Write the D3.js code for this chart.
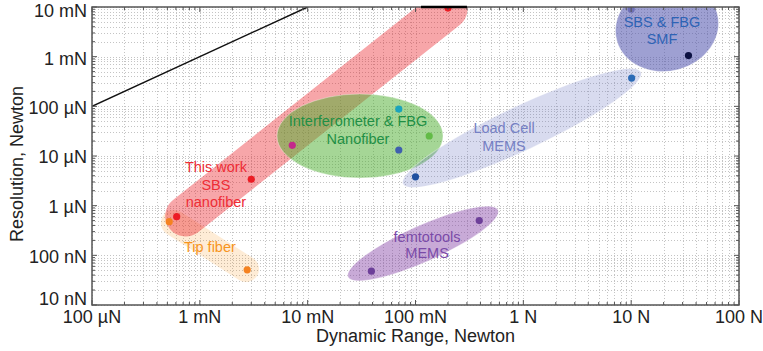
<!DOCTYPE html>
<html>
<head>
<meta charset="utf-8">
<script src="https://cdn.jsdelivr.net/npm/d3@7"></script>
<style>
  body { margin: 0; background: #fff; }
  svg { display: block; font-family: 'Liberation Sans', Arial, sans-serif; }
</style>
</head>
<body>
<script>
// axis ticks
const xTicks = [1e-4, 1e-3, 1e-2, 1e-1, 1, 10, 100]
const xTickLabels = ['100 µN', '1 mN', '10 mN', '100 mN', '1 N', '10 N', '100 N']
const yTicks = [1e-8, 1e-7, 1e-6, 1e-5, 1e-4, 1e-3, 1e-2]
const yTickLabels = ['10 nN', '100 nN', '1 µN', '10 µN', '100 µN', '1 mN', '10 mN']

// [dynamic range, resolution] in newton
const thisWork = [[6.1e-4, 6.0e-7], [3.0e-3, 3.4e-6], [0.2, 9.5e-3]]
const tipFiber = [[5.2e-4, 4.75e-7], [2.75e-3, 5.1e-8]]
const interferometer = [[7.2e-3, 1.64e-5], [0.07, 8.8e-5], [0.134, 2.53e-5], [0.07, 1.32e-5]]
const loadCell = [[0.1, 3.8e-6], [10.1, 3.7e-4]]
const smf = [[10, 9e-3], [34, 1.05e-3]]
const femtotools = [[0.039, 4.8e-8], [0.39, 5e-7]]

// resolution = range
const unityLine = [1e-4, 1e-2]
const topSegment = [0.1125, 0.3]

const width = 763
const height = 351
const margin = { top: 7, right: 24, bottom: 46, left: 92 }

const x = d3.scaleLog().domain([1e-4, 100]).range([margin.left, width - margin.right])
const y = d3.scaleLog().domain([1e-8, 1e-2]).range([height - margin.bottom, margin.top])

const points = [
  { data: thisWork, colors: ['#ec1c24', '#ec1c24', '#ec1c24'] },
  { data: tipFiber, colors: ['#f58220', '#f58220'] },
  { data: interferometer, colors: ['#c4288b', '#1ba4bc', '#62bb46', '#3f5fae'] },
  { data: loadCell, colors: ['#1f4f9f', '#2c6bb6'] },
  { data: smf, colors: ['#6e70b7', '#0c1142'] },
  { data: femtotools, colors: ['#6d3f99', '#6d3f99'] }
].flatMap(g => g.data.map((d, i) => ({ d, color: g.colors[i] })))

// shaded groups, ends of the long axis in data units
const regions = [
  { shape: 'capsule', from: [5.75e-4, 4.48e-7], to: [2.68e-3, 5.3e-8], half: 13, color: '#f7941d', opacity: 0.18 },
  { shape: 'capsule', from: [7.4e-4, 6.2e-7], to: [0.196, 9.1e-3], half: 20.5, color: '#ec2028', opacity: 0.4 },
  { shape: 'ellipse', from: [5.2e-3, 2.53e-5], to: [0.18, 2.53e-5], half: 42, color: '#4bad2d', opacity: 0.5 },
  { shape: 'ellipse', from: [0.0766, 2.73e-6], to: [12.3, 4.91e-4], half: 22, color: '#6470be', opacity: 0.25 },
  { shape: 'ellipse', from: [7.36, 2.12e-3], to: [62.8, 7.4e-3], half: 44, color: '#4f52ad', opacity: 0.55 },
  { shape: 'ellipse', from: [0.0237, 3.66e-8], to: [0.582, 8.2e-7], half: 18, color: '#8542a6', opacity: 0.45 }
]

const labels = [
  { lines: ['This work', 'SBS', 'nanofiber'], at: [1.41e-3, 6.0e-6], lh: 17.5, color: '#ee2d36' },
  { lines: ['Tip fiber'], at: [1.24e-3, 1.47e-7], lh: 17, color: '#f7941d' },
  { lines: ['Interferometer & FBG', 'Nanofiber'], at: [0.0293, 5.07e-5], lh: 18, color: '#1f8f45' },
  { lines: ['Load Cell', 'MEMS'], at: [0.662, 3.66e-5], lh: 18, color: '#7580c4' },
  { lines: ['SBS & FBG', 'SMF'], at: [19.3, 4.99e-3], lh: 17, color: '#2e63b5' },
  { lines: ['femtotools', 'MEMS'], at: [0.128, 2.34e-7], lh: 16, color: '#7a4aa8' }
]

const svg = d3.select('body').append('svg')
  .attr('width', width)
  .attr('height', height)

const [x0, x1] = x.range()
const [y1, y0] = y.range()

svg.append('clipPath').attr('id', 'plot')
  .append('rect')
  .attr('x', x0).attr('y', y0)
  .attr('width', x1 - x0).attr('height', y1 - y0)

// dotted grid
const grid = svg.append('g')
  .attr('stroke', '#c4c4c4')
  .attr('stroke-width', 1)
  .attr('stroke-dasharray', '1,2')

grid.selectAll('.gx')
  .data(x.ticks())
  .join('line')
  .attr('x1', d => Math.round(x(d)) + 0.5).attr('x2', d => Math.round(x(d)) + 0.5)
  .attr('y1', y0).attr('y2', y1)

grid.selectAll('.gy')
  .data(y.ticks())
  .join('line')
  .attr('y1', d => Math.round(y(d)) + 0.5).attr('y2', d => Math.round(y(d)) + 0.5)
  .attr('x1', x0).attr('x2', x1)

const plot = svg.append('g').attr('clip-path', 'url(#plot)')

plot.selectAll('.region')
  .data(regions)
  .join(enter => enter.append(d => document.createElementNS(d3.namespaces.svg, d.shape === 'capsule' ? 'line' : 'ellipse')))
  .each(function (d) {
    const ax = x(d.from[0]), ay = y(d.from[1])
    const bx = x(d.to[0]), by = y(d.to[1])
    const el = d3.select(this)
    if (d.shape === 'capsule') {
      el.attr('x1', ax).attr('y1', ay).attr('x2', bx).attr('y2', by)
        .attr('stroke', d.color)
        .attr('stroke-opacity', d.opacity)
        .attr('stroke-width', d.half * 2)
        .attr('stroke-linecap', 'round')
    } else {
      const cx = (ax + bx) / 2, cy = (ay + by) / 2
      const angle = Math.atan2(by - ay, bx - ax) * 180 / Math.PI
      el.attr('cx', cx).attr('cy', cy)
        .attr('rx', Math.hypot(bx - ax, by - ay) / 2)
        .attr('ry', d.half)
        .attr('transform', `rotate(${angle},${cx},${cy})`)
        .attr('fill', d.color)
        .attr('fill-opacity', d.opacity)
        .attr('stroke', '#fff')
        .attr('stroke-opacity', 0.35)
    }
  })

plot.append('line')
  .attr('x1', x(unityLine[0])).attr('y1', y(unityLine[0]))
  .attr('x2', x(unityLine[1])).attr('y2', y(unityLine[1]))
  .attr('stroke', '#111')
  .attr('stroke-width', 1.5)

plot.selectAll('circle')
  .data(points)
  .join('circle')
  .attr('cx', p => x(p.d[0]))
  .attr('cy', p => y(p.d[1]))
  .attr('r', 3.6)
  .attr('fill', p => p.color)

// group labels
labels.forEach(l => {
  svg.append('text')
    .attr('x', x(l.at[0]))
    .attr('y', y(l.at[1]))
    .attr('fill', l.color)
    .attr('font-size', 14.5)
    .attr('text-anchor', 'middle')
    .selectAll('tspan')
    .data(l.lines)
    .join('tspan')
    .attr('x', x(l.at[0]))
    .attr('dy', (d, i) => i === 0 ? '0.35em' : l.lh)
    .text(d => d)
})

// frame, ticks
const frame = svg.append('g').attr('stroke', '#555')

const minor = (scale, majors) => scale.ticks().filter(t => !majors.includes(t))
const xMinor = minor(x, xTicks)
const yMinor = minor(y, yTicks)

const tick = (data, len, horiz) => frame.append('g')
  .selectAll('path')
  .data(data)
  .join('path')
  .attr('stroke-width', 1)
  .attr('d', d => horiz
    ? `M${x(d)},${y1}v${-len}M${x(d)},${y0}v${len}`
    : `M${x0},${y(d)}h${len}M${x1},${y(d)}h${-len}`)

tick(xTicks, 5, true)
tick(xMinor, 3, true)
tick(yTicks, 5, false)
tick(yMinor, 3, false)

frame.append('rect')
  .attr('x', x0).attr('y', y0)
  .attr('width', x1 - x0).attr('height', y1 - y0)
  .attr('fill', 'none')
  .attr('stroke-width', 1.5)

svg.append('line')
  .attr('x1', x(topSegment[0])).attr('x2', x(topSegment[1]))
  .attr('y1', y0).attr('y2', y0)
  .attr('stroke', '#000')
  .attr('stroke-width', 2.5)

const tickText = svg.append('g')
  .attr('font-size', 18)
  .attr('fill', '#222')

tickText.selectAll('.xt')
  .data(xTicks)
  .join('text')
  .attr('x', d => x(d))
  .attr('y', 323)
  .attr('text-anchor', 'middle')
  .text((d, i) => xTickLabels[i])

// end labels sit a little inside the frame, as in the original
const yNudge = [-6, 1, 1, 1, 1, 2, 4]

tickText.selectAll('.yt')
  .data(yTicks)
  .join('text')
  .attr('x', x0 - 5)
  .attr('y', (d, i) => y(d) + yNudge[i])
  .attr('dy', '0.35em')
  .attr('text-anchor', 'end')
  .text((d, i) => yTickLabels[i])

svg.append('text')
  .attr('x', (x0 + x1) / 2)
  .attr('y', 342)
  .attr('text-anchor', 'middle')
  .attr('font-size', 18)
  .attr('fill', '#222')
  .text('Dynamic Range, Newton')

svg.append('text')
  .attr('transform', `translate(23,${(y0 + y1) / 2 + 8}) rotate(-90)`)
  .attr('text-anchor', 'middle')
  .attr('font-size', 18)
  .attr('fill', '#222')
  .text('Resolution, Newton')
</script>
</body>
</html>
